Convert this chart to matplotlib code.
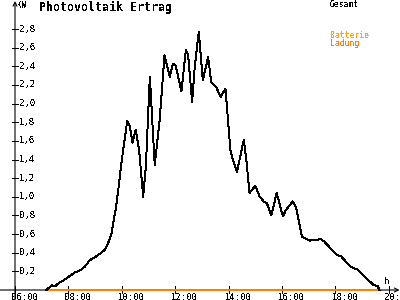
import matplotlib
matplotlib.use("Agg")
import matplotlib.pyplot as plt
import numpy as np

# Gesamt (kW) over the day
times = ["07:11", "07:22", "07:30", "07:37", "07:48", "08:03", "08:15", "08:26",
         "08:37", "08:48", "08:59", "09:11", "09:22", "09:29", "09:37", "09:42",
         "09:47", "09:52", "09:59", "10:12", "10:18", "10:24", "10:31", "10:39",
         "10:48", "10:54", "11:03", "11:14", "11:25", "11:36", "11:48", "11:55",
         "12:01", "12:14", "12:24", "12:29", "12:38", "12:44", "12:53", "13:02",
         "13:14", "13:21", "13:32", "13:42", "13:53", "13:58", "14:04", "14:10",
         "14:19", "14:34", "14:40", "14:47", "15:00", "15:10", "15:19", "15:26",
         "15:36", "15:48", "16:02", "16:09", "16:24", "16:32", "16:45", "17:02",
         "17:20", "17:26", "17:35", "18:02", "18:13", "18:34", "18:49", "19:09",
         "19:24", "19:35", "19:39"]
gesamt = [0.00, 0.05, 0.04, 0.07, 0.10, 0.15, 0.19, 0.21,
          0.25, 0.32, 0.35, 0.39, 0.43, 0.50, 0.61, 0.75,
          0.89, 1.07, 1.36, 1.81, 1.76, 1.58, 1.72, 1.50,
          1.00, 1.32, 2.29, 1.34, 1.82, 2.52, 2.29, 2.43,
          2.41, 2.13, 2.58, 2.52, 2.02, 2.40, 2.77, 2.25,
          2.50, 2.23, 2.18, 2.07, 2.16, 1.86, 1.50, 1.39,
          1.27, 1.61, 1.39, 1.04, 1.12, 1.00, 0.95, 0.93,
          0.80, 1.04, 0.79, 0.86, 0.95, 0.88, 0.57, 0.53,
          0.54, 0.55, 0.52, 0.38, 0.36, 0.25, 0.22, 0.13,
          0.06, 0.04, 0.00]
# Batterie Ladung stays at zero
ladung = [0.0 for _ in times]

xticks = [6, 8, 10, 12, 14, 16, 18, 20]
xlabels = ["06:00", "08:00", "10:00", "12:00", "14:00", "16:00", "18:00", "20:"]
yticks = [0.2, 0.4, 0.6, 0.8, 1.0, 1.2, 1.4, 1.6, 1.8, 2.0, 2.2, 2.4, 2.6, 2.8]


def to_hours(t):
    h, m = t.split(":")
    return int(h) + int(m) / 60


hours = np.array([to_hours(t) for t in times])

plt.rcParams["text.antialiased"] = False
mono = "DejaVu Sans Mono"

px_x = 26.7   # pixels per hour
px_y = 93.2   # pixels per kW
x0 = 6 - 15 / px_x
x1 = x0 + 400 / px_x
y0 = -10 / px_y
y1 = y0 + 300 / px_y

fig = plt.figure(figsize=(4, 3), dpi=100)
ax = fig.add_axes([0, 0, 1, 1])
ax.set_xlim(x0, x1)
ax.set_ylim(y0, y1)
ax.axis("off")

# axes with arrows
ax.annotate("", xy=(x1 - 0.5 / px_x, 0), xytext=(x0, 0),
            arrowprops=dict(arrowstyle="->", lw=0.8, color="black",
                            shrinkA=0, shrinkB=0, mutation_scale=7))
ax.annotate("", xy=(6, y1 - 1 / px_y), xytext=(6, y0),
            arrowprops=dict(arrowstyle="->", lw=0.8, color="black",
                            shrinkA=0, shrinkB=0, mutation_scale=7))

for v in yticks:
    ax.plot([6 - 3 / px_x, 6 + 3 / px_x], [v, v], color="black", lw=0.7,
            antialiased=False)
    ax.text(6 + 4 / px_x, v, f"{v:.1f}".replace(".", ","), fontsize=6.5,
            family=mono, ha="left", va="center")

for h, lab in zip(xticks, xlabels):
    ax.plot([h, h], [-2.5 / px_y, 4 / px_y], color="black", lw=0.7,
            antialiased=False)
    ax.text(h - 4 / px_x, -7 / px_y, lab, fontsize=6.5,
            family=mono, ha="left", va="center")

ax.text(6 + 3 / px_x, (290 - 5) / px_y, "KW", fontsize=5.5, family=mono,
        ha="left", va="center")
ax.text(x0 + 384 / px_x, (290 - 282) / px_y, "h", fontsize=6.5, family=mono,
        ha="left", va="center")

# series
ax.plot(hours, ladung, color="#FF8000", lw=1.4, antialiased=False, zorder=3)
ax.plot(hours, gesamt, color="black", lw=0.7, antialiased=False, zorder=4)

# title and legend texts
ax.text(x0 + 39 / px_x, (290 - 7) / px_y, "Photovoltaik Ertrag", fontsize=8.4,
        family=mono, weight="bold", ha="left", va="center")
ax.text(x0 + 330 / px_x, (290 - 4.5) / px_y, "Gesamt", fontsize=5.8,
        family=mono, ha="left", va="center", color="black")
ax.text(x0 + 330 / px_x, (290 - 36) / px_y, "Batterie", fontsize=5.8,
        family=mono, ha="left", va="center", color="#FFA500")
ax.text(x0 + 330 / px_x, (290 - 44) / px_y, "Ladung", fontsize=5.8,
        family=mono, ha="left", va="center", color="#FF8000")

fig.savefig("out.png", dpi=100)
